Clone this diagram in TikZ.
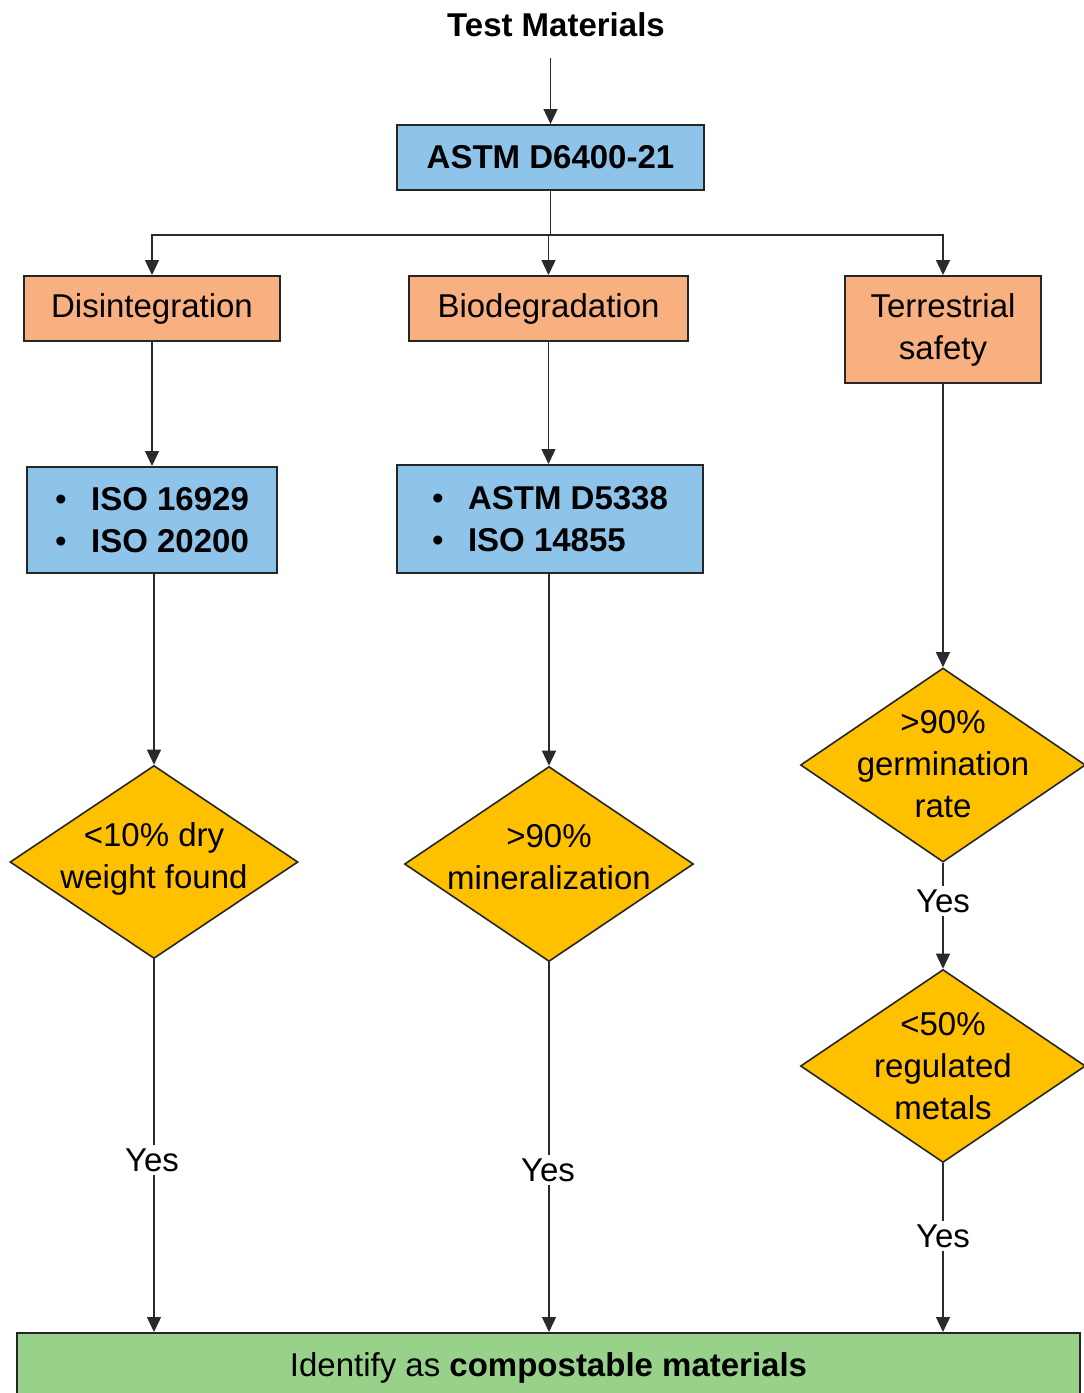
\documentclass[tikz,border=0pt]{standalone}
\usepackage{fontspec}
\setmainfont{Liberation Sans}
\usetikzlibrary{shapes.geometric,arrows.meta}
\definecolor{boxblue}{HTML}{8EC4E9}
\definecolor{boxorange}{HTML}{F9B081}
\definecolor{diagold}{HTML}{FFC000}
\definecolor{bargreen}{HTML}{98D28A}
\definecolor{linegray}{HTML}{2A2A2A}
\begin{document}
\begin{tikzpicture}[x=1pt,y=-1pt,
  every node/.style={font=\fontsize{33}{42}\selectfont, text=black},
  bluebox/.style={draw=black!85, line width=2pt, fill=boxblue, inner sep=0pt, align=center},
  orangebox/.style={draw=black!85, line width=2pt, fill=boxorange, inner sep=0pt, align=center},
  decision/.style={diamond, draw=black!85, line width=1.6pt, fill=diagold, inner sep=0pt},
  dlabel/.style={align=center, font=\fontsize{33}{42}\selectfont},
  yeslabel/.style={fill=white, inner sep=3pt},
  arr/.style={draw=linegray, line width=1.4pt, -{Triangle[width=14pt,length=15pt]}},
  conn/.style={draw=linegray, line width=1.4pt}
]
\clip (0,0) rectangle (1084,1393);
\fill[white] (0,0) rectangle (1084,1393);

\node[minimum height=66pt, inner sep=0pt, font=\fontsize{33}{42}\selectfont\bfseries] (tm) at (556,25) {Test Materials};
\node[bluebox, minimum width=307pt, minimum height=65pt, font=\fontsize{33}{42}\selectfont\bfseries] (astm) at (550.5,157.5) {ASTM D6400-21};

\node[orangebox, minimum width=256pt, minimum height=65pt] (dis) at (152,308.5) {Disintegration};
\node[orangebox, minimum width=279pt, minimum height=65pt] (bio) at (548.5,308.5) {Biodegradation};
\node[orangebox, minimum width=196pt, minimum height=107pt] (ter) at (943,329.5) {Terrestrial\\safety};

\node[bluebox, minimum width=250pt, minimum height=106pt, align=left, font=\fontsize{33}{42}\selectfont\bfseries] (iso1) at (152,520)
  {\makebox[36pt][l]{\mdseries\textbullet}ISO 16929\\\makebox[36pt][l]{\mdseries\textbullet}ISO 20200};
\node[bluebox, minimum width=306pt, minimum height=108pt, align=left, font=\fontsize{33}{42}\selectfont\bfseries] (iso2) at (550,519)
  {\makebox[36pt][l]{\mdseries\textbullet}ASTM D5338\\\makebox[36pt][l]{\mdseries\textbullet}ISO 14855};

\node[decision, minimum width=288pt, minimum height=193pt, label={[dlabel, yshift=3pt]center:{<10\% dry\\weight found}}] (d1) at (154,862) {};
\node[decision, minimum width=289pt, minimum height=195pt, label={[dlabel, yshift=7pt]center:{>90\%\\mineralization}}] (d2) at (549,864) {};
\node[decision, minimum width=285pt, minimum height=194pt, label={[dlabel, yshift=1pt]center:{>90\%\\germination\\rate}}] (d3) at (943,765) {};
\node[decision, minimum width=285pt, minimum height=193pt, label={[dlabel]center:{<50\%\\regulated\\metals}}] (d4) at (943,1066) {};

\node[draw=black!85, line width=2pt, fill=bargreen, minimum width=1063pt, minimum height=70pt, inner sep=0pt] (bar) at (548.5,1368)
  {\raisebox{3pt}{Identify as \textbf{compostable materials}}};

\node[yeslabel] (y1) at (152,1160) {Yes};
\node[yeslabel] (y2) at (548,1170) {Yes};
\node[yeslabel] (y3) at (943,901) {Yes};
\node[yeslabel] (y4) at (943,1236) {Yes};

\coordinate (split) at (550.5,235);

\draw[arr] (tm.south -| astm.north) -- (astm.north);
\draw[conn] (astm.south) -- (split);
\draw[arr] (split) -| (dis.north);
\draw[arr] (split) -- (split -| bio.north) -- (bio.north);
\draw[arr] (split) -| (ter.north);

\draw[arr] (dis.south) -- (iso1.north -| dis.south);
\draw[arr] (bio.south) -- (iso2.north -| bio.south);
\draw[arr] (ter.south) -- (d3.north);

\draw[arr] (iso1.south -| d1.north) -- (d1.north);
\draw[arr] (iso2.south -| d2.north) -- (d2.north);

\draw[conn] (d1.south) -- (y1.north -| d1.south);
\draw[arr] (y1.south -| d1.south) -- (bar.north -| d1.south);
\draw[conn] (d2.south) -- (y2.north -| d2.south);
\draw[arr] (y2.south -| d2.south) -- (bar.north -| d2.south);

\draw[conn] (d3.south) -- (y3.north);
\draw[arr] (y3.south) -- (d4.north);
\draw[conn] (d4.south) -- (y4.north);
\draw[arr] (y4.south) -- (bar.north -| y4.south);
\end{tikzpicture}
\end{document}
